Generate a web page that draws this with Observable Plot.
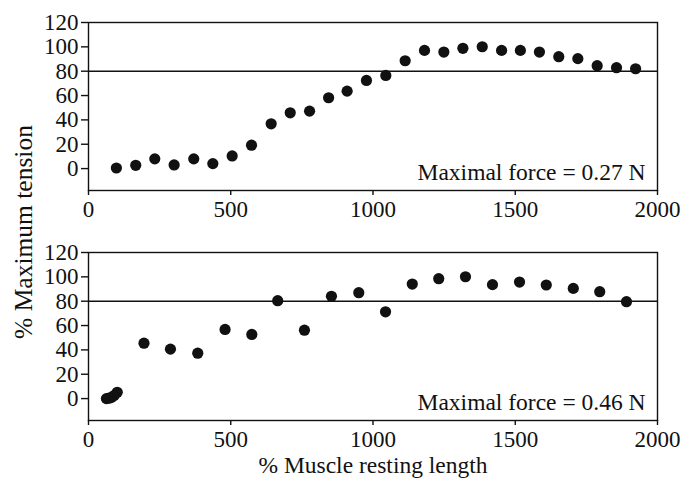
<!DOCTYPE html>
<html>
<head>
<meta charset="utf-8">
<script src="https://cdn.jsdelivr.net/npm/d3@7"></script>
<script src="https://cdn.jsdelivr.net/npm/@observablehq/plot@0.6"></script>
<style>
  html, body { margin: 0; padding: 0; background: #fff; }
  #wrap { position: relative; width: 695px; height: 481px; font-family: 'Liberation Serif', 'Times New Roman', serif; color: #111; }
  #wrap svg { position: absolute; left: 0; overflow: visible; font-family: 'Liberation Serif', 'Times New Roman', serif; }
  #wrap svg text { font-family: 'Liberation Serif', 'Times New Roman', serif; }
  .lab { position: absolute; font-size: 23.5px; white-space: nowrap; line-height: 1; font-family: 'Liberation Serif', serif; }
</style>
</head>
<body>
<div id="wrap"></div>
<script>
// Panel A (maximal force 0.27 N)
const lengthA  = [98, 166, 233, 301, 370, 437, 505, 573, 642, 709, 777, 844, 909, 977, 1045, 1113, 1181, 1249, 1316, 1384, 1452, 1518, 1585, 1653, 1720, 1788, 1856, 1923];
const tensionA = [0.5, 2.7, 8, 3, 8, 4.1, 10.4, 19.2, 36.8, 45.8, 47.2, 58.2, 63.6, 72.4, 76.5, 88.6, 97.1, 95.7, 98.8, 100.1, 97.1, 97.1, 95.7, 91.9, 90.3, 84.5, 82.9, 82.0];
// Panel B (maximal force 0.46 N)
const lengthB  = [63, 72, 81, 90, 101, 195, 288, 384, 480, 574, 665, 759, 854, 950, 1044, 1138, 1231, 1325, 1420, 1515, 1609, 1704, 1797, 1891];
const tensionB = [0, 0.3, 1, 2.5, 5.2, 45.5, 40.6, 37.3, 56.8, 52.7, 80.4, 56.2, 84, 87, 71.3, 94.1, 98.5, 100.1, 93.6, 95.7, 93.3, 90.5, 87.8, 79.6];

const xTicks = [0, 500, 1000, 1500, 2000];
const yTicks = [0, 20, 40, 60, 80, 100, 120];
const refLine = [80];
const notes = ["Maximal force = 0.27 N", "Maximal force = 0.46 N"];
const xLabel = "% Muscle resting length";
const yLabel = "% Maximum tension";

const FONT = "'Liberation Serif', 'Times New Roman', serif";
const INK = "#111";

function panel(xs, ys, note, height, marginTop, marginBottom) {
  const data = xs.map((x, i) => ({x, y: ys[i]}));
  return Plot.plot({
    width: 695,
    height,
    marginTop,
    marginBottom,
    marginLeft: 88,
    marginRight: 38,
    style: {fontFamily: FONT, fontSize: "23px", color: INK, background: "transparent"},
    x: {domain: [0, 2000], axis: null},
    y: {domain: [-18, 120], axis: null},
    marks: [
      Plot.ruleY(refLine, {stroke: INK, strokeWidth: 1.4}),
      Plot.dot(data, {x: "x", y: "y", r: 5.6, fill: INK, stroke: "none"}),
      Plot.frame({stroke: INK, strokeWidth: 1.4}),
      Plot.axisX({ticks: xTicks, tickSize: 5, tickPadding: 5, fontSize: 23, label: null, stroke: INK, strokeWidth: 1.4, fill: INK, tickFormat: d3.format("d")}),
      Plot.axisY({ticks: yTicks, tickSize: 7, tickPadding: 3, fontSize: 23, label: null, stroke: INK, strokeWidth: 1.4, fill: INK, tickFormat: d3.format("d")}),
      Plot.text([note], {text: d => d, frameAnchor: "bottom-right", textAnchor: "end", dx: -12, dy: -11, fontSize: 23.5, fill: INK})
    ]
  });
}

const wrap = document.getElementById("wrap");
const p1 = panel(lengthA, tensionA, notes[0], 230, 22, 40);
p1.style.top = "0px";
const p2 = panel(lengthB, tensionB, notes[1], 251, 22, 61);
p2.style.top = "230px";
wrap.appendChild(p1);
wrap.appendChild(p2);

const xl = document.createElement("div");
xl.className = "lab";
xl.textContent = xLabel;
xl.style.left = "373px";
xl.style.top = "454px";
xl.style.transform = "translateX(-50%)";
wrap.appendChild(xl);

const yl = document.createElement("div");
yl.className = "lab";
yl.textContent = yLabel;
yl.style.left = "24px";
yl.style.top = "232px";
yl.style.fontSize = "25.5px";
yl.style.transform = "translate(-50%, -50%) rotate(-90deg)";
wrap.appendChild(yl);
</script>
</body>
</html>
